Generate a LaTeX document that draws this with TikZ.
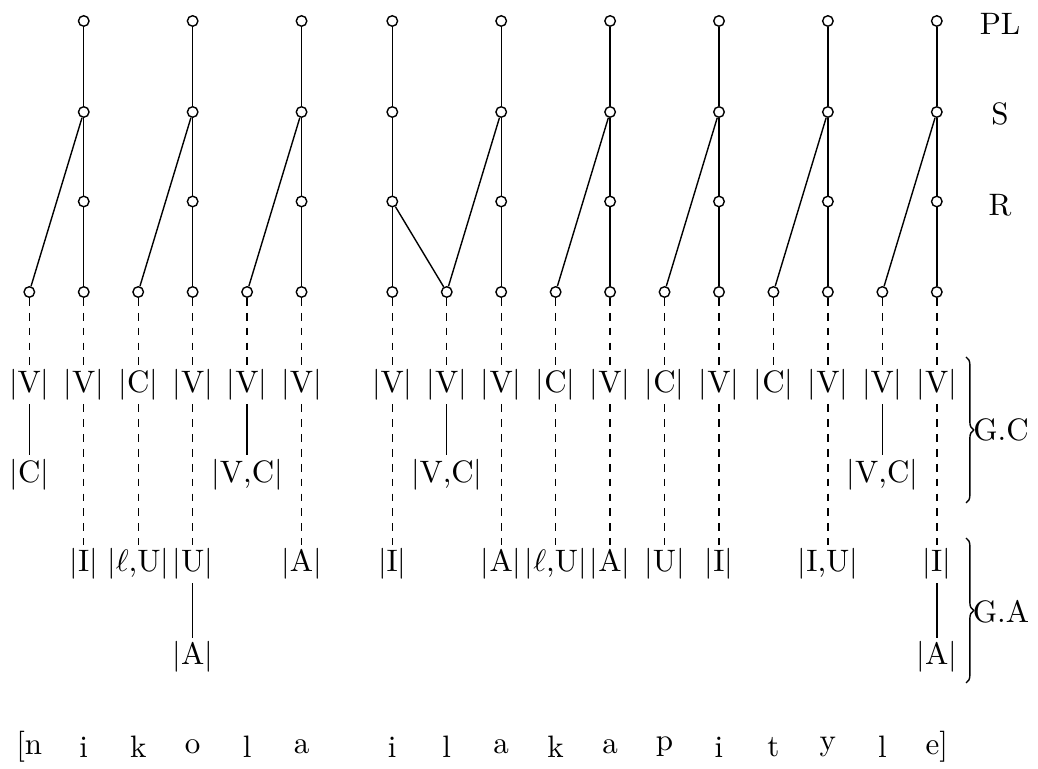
\documentclass[tikz,border=0pt]{standalone}
\usetikzlibrary{decorations.pathreplacing}
\newcommand{\elm}[1]{$|$#1$|$}
\tikzset{
  dot/.style={draw, circle, inner sep=0pt, minimum size=3.4pt},
  elm/.style={inner sep=1pt},
  dsh/.style={dash pattern=on 2.5pt off 2.3pt},
  lnk/.style={},
  brc/.style={decorate, decoration={brace, amplitude=2.5pt}},
}
\begin{document}
\begin{tikzpicture}[x=0.3226pt, y=-0.3226pt, line width=0.45pt]
\useasboundingbox (0,0) rectangle (1038,769);
% prosodic heads: PL, S, R
\foreach \i/\x in {2/83.75,4/192.65,6/301.55,7/392.3,9/501.2,11/610.1,13/719.0,15/827.9,17/936.8}{
  \node[dot] (p\i) at (\x,21) {};
  \node[dot] (s\i) at (\x,112) {};
  \node[dot] (r\i) at (\x,201.5) {};
}
% skeletal positions and first element row
\foreach \i/\x/\t in {1/29.3/V,2/83.75/V,3/138.2/C,4/192.65/V,5/247.1/V,6/301.55/V,7/392.3/V,8/446.75/V,9/501.2/V,10/555.65/C,11/610.1/V,12/664.55/C,13/719.0/V,14/773.45/C,15/827.9/V,16/882.35/V,17/936.8/V}{
  \node[dot] (x\i) at (\x,292) {};
  \node[elm] (a\i) at (\x,385) {\elm{\t}};
  \draw[dsh] (x\i) -- (a\i);
}
% vertical head lines
\foreach \i in {2,4,6,7,9,11,13,15,17}{
  \draw[lnk] (p\i) -- (s\i) -- (r\i) -- (x\i);
}
% diagonals
\draw[lnk] (s2) -- (x1);
\draw[lnk] (s4) -- (x3);
\draw[lnk] (s6) -- (x5);
\draw[lnk] (r7) -- (x8);
\draw[lnk] (s9) -- (x8);
\draw[lnk] (s11) -- (x10);
\draw[lnk] (s13) -- (x12);
\draw[lnk] (s15) -- (x14);
\draw[lnk] (s17) -- (x16);
% second element row (G.C)
\node[elm] (b1) at (29.3,474.5) {\elm{C}};
\node[elm] (b5) at (247.1,474.5) {\elm{V,C}};
\node[elm] (b8) at (446.75,474.5) {\elm{V,C}};
\node[elm] (b16) at (882.35,474.5) {\elm{V,C}};
\foreach \i in {1,5,8,16}{ \draw[lnk] (a\i) -- (b\i); }
% third element row (G.A)
\node[elm] (c2) at (83.75,564) {\elm{I}};
\node[elm] (c3) at (138.2,564) {\elm{$\ell$,U}};
\node[elm] (c4) at (192.65,564) {\elm{U}};
\node[elm] (c6) at (301.55,564) {\elm{A}};
\node[elm] (c7) at (392.3,564) {\elm{I}};
\node[elm] (c9) at (501.2,564) {\elm{A}};
\node[elm] (c10) at (555.65,564) {\elm{$\ell$,U}};
\node[elm] (c11) at (610.1,564) {\elm{A}};
\node[elm] (c12) at (664.55,564) {\elm{U}};
\node[elm] (c13) at (719.0,564) {\elm{I}};
\node[elm] (c15) at (827.9,564) {\elm{I,U}};
\node[elm] (c17) at (936.8,564) {\elm{I}};
\foreach \i in {2,3,4,6,7,9,10,11,12,13,15,17}{ \draw[dsh] (a\i) -- (c\i); }
% fourth element row
\node[elm] (d4) at (192.65,657) {\elm{A}};
\node[elm] (d17) at (936.8,657) {\elm{A}};
\draw[lnk] (c4) -- (d4);
\draw[lnk] (c17) -- (d17);
% segments
\foreach \i/\x/\t in {1/29.3/{[n},2/83.75/i,3/138.2/k,4/192.65/o,5/247.1/l,6/301.55/a,7/392.3/i,8/446.75/l,9/501.2/a,10/555.65/k,11/610.1/a,12/664.55/p,13/719.0/i,14/773.45/t,15/827.9/y,16/882.35/l,17/936.8/{e]}}{
  \node (g\i) at (\x,747) {\t};
}
% tier labels
\node (lPL) at (1000,24) {PL};
\node (lS) at (1000,114) {S};
\node (lR) at (1000,205) {R};
% braces
\coordinate (gct) at (966,357);
\coordinate (gcb) at (966,503);
\coordinate (gat) at (966,538);
\coordinate (gab) at (966,683);
\draw[brc] (gct) -- (gcb);
\draw[brc] (gat) -- (gab);
\node (lGC) at (1001,430) {G.C};
\node (lGA) at (1001,612) {G.A};
\end{tikzpicture}
\end{document}
